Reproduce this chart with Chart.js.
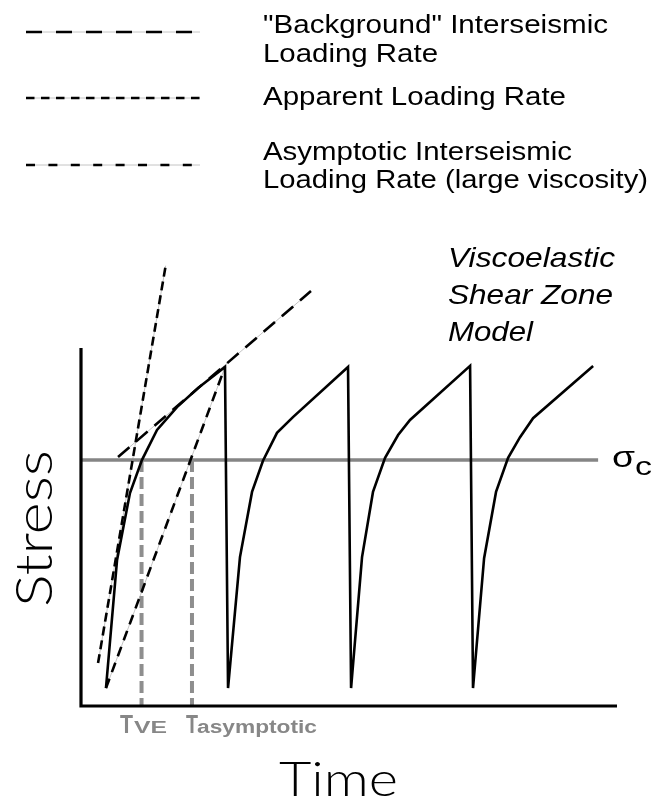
<!DOCTYPE html>
<html>
<head>
<meta charset="utf-8">
<script src="https://cdn.jsdelivr.net/npm/chart.js@4.4.1/dist/chart.umd.min.js"></script>
<style>
html,body{margin:0;padding:0;background:#fff;}
canvas{display:block;}
</style>
</head>
<body>
<canvas id="c" width="669" height="802"></canvas>
<script>
// ---------------- data (arbitrary time / stress units) ----------------
const stressTime = [
  0.205, 0.296, 0.402, 0.500, 0.624, 0.788, 0.961, 1.182,
  1.207, 1.305, 1.404, 1.494, 1.609, 1.740, 2.192,
  2.217, 2.307, 2.397, 2.496, 2.603, 2.701, 3.194,
  3.218, 3.309, 3.407, 3.506, 3.604, 3.711, 4.204
];
const stressValue = [
  0.50, 4.08, 5.95, 6.87, 7.71, 8.35, 8.88, 9.47,
  0.50, 4.16, 5.98, 6.85, 7.63, 8.07, 9.47,
  0.50, 4.16, 5.98, 6.93, 7.57, 7.99, 9.50,
  0.50, 4.13, 5.98, 6.93, 7.51, 8.04, 9.50
];
const sigmaC = 6.87;
const sigmaCTime = [0, 4.245];
const sigmaCValue = [sigmaC, sigmaC];

const backgroundTime = [0.304, 1.888];
const backgroundValue = [6.955, 11.59];
const apparentTime = [0.14, 0.695];
const apparentValue = [1.2, 12.3];
const asymptoticTime = [0.205, 1.182];
const asymptoticValue = [0.5, 9.47];

const tVE = 0.497;
const tAsymptotic = 0.911;
const markerTimesVE = [tVE, tVE];
const markerTimesAsym = [tAsymptotic, tAsymptotic];
const markerValues = [sigmaC, 0];

const axisTime = [0, 0, 4.4];
const axisValue = [10, 0, 0];

const legendLabels = [
  ['"Background" Interseismic', 'Loading Rate'],
  ['Apparent Loading Rate'],
  ['Asymptotic Interseismic', 'Loading Rate (large viscosity)']
];
const modelLabel = ['Viscoelastic', 'Shear Zone', 'Model'];
const xTitle = 'Time';
const yTitle = 'Stress';
const sigmaLabel = ['σ', 'c'];
const markerLabels = [['T', 'VE'], ['T', 'asymptotic']];

// ---------------- helpers ----------------
function pts(xs, ys) { return xs.map((x, i) => ({ x: x, y: ys[i] })); }
function line(xs, ys, opts) {
  return Object.assign({
    data: pts(xs, ys), showLine: true, pointRadius: 0, pointHoverRadius: 0,
    fill: false, tension: 0, clip: false, borderWidth: 2, borderColor: '#000'
  }, opts);
}

function fitText(ctx, text, font, x, y, width, color, sy) {
  ctx.save();
  ctx.font = font;
  ctx.fillStyle = color;
  ctx.textAlign = 'left';
  ctx.textBaseline = 'alphabetic';
  const w = ctx.measureText(text).width;
  ctx.translate(x, y);
  ctx.scale(width / w, sy || 1);
  ctx.fillText(text, 0, 0);
  ctx.restore();
}

const SANS = '"Liberation Sans", Arial, Helvetica, sans-serif';
const THIN = 'Lato, Roboto, "Open Sans", sans-serif';

const overlay = {
  id: 'overlay',
  afterDraw(chart) {
    const ctx = chart.ctx;
    // legend samples
    const rows = [
      { y: 32, dash: [16, 14] },
      { y: 98, dash: [8.5, 6.5] },
      { y: 165, dash: [9, 13.4] }
    ];
    rows.forEach(r => {
      ctx.save();
      ctx.strokeStyle = '#c4c4c4'; ctx.lineWidth = 1;
      ctx.beginPath(); ctx.moveTo(26, r.y); ctx.lineTo(200, r.y); ctx.stroke();
      ctx.strokeStyle = '#000'; ctx.lineWidth = 2.6; ctx.setLineDash(r.dash);
      ctx.beginPath(); ctx.moveTo(26, r.y); ctx.lineTo(200, r.y); ctx.stroke();
      ctx.restore();
    });
    // legend text
    const lf = '26px ' + SANS;
    fitText(ctx, legendLabels[0][0], lf, 263, 33, 345, '#000');
    fitText(ctx, legendLabels[0][1], lf, 263, 62, 175, '#000');
    fitText(ctx, legendLabels[1][0], lf, 263, 105, 303, '#000');
    fitText(ctx, legendLabels[2][0], lf, 263, 160, 309, '#000');
    fitText(ctx, legendLabels[2][1], lf, 263, 188, 385, '#000');

    // model label
    const mf = 'italic 28px ' + SANS;
    fitText(ctx, modelLabel[0], mf, 448, 267, 167, '#000');
    fitText(ctx, modelLabel[1], mf, 448, 304, 165, '#000');
    fitText(ctx, modelLabel[2], mf, 448, 341, 85, '#000');

    // sigma_c
    fitText(ctx, sigmaLabel[0], '30px ' + SANS, 612, 467, 23, '#000');
    fitText(ctx, sigmaLabel[1], '26px ' + SANS, 635, 475, 17, '#000');

    // T labels
    const g = '#878787';
    fitText(ctx, markerLabels[0][0], 'bold 25px ' + SANS, 120, 733, 13, g);
    fitText(ctx, markerLabels[0][1], 'bold 16px ' + SANS, 134, 733, 33, g);
    fitText(ctx, markerLabels[1][0], 'bold 25px ' + SANS, 186, 733, 12, g);
    fitText(ctx, markerLabels[1][1], 'bold 18px ' + SANS, 197, 733, 120, g);

    // axis titles
    fitText(ctx, xTitle, '300 48px ' + THIN, 279, 796, 119, '#000');
    ctx.save();
    ctx.translate(52, 607);
    ctx.rotate(-Math.PI / 2);
    fitText(ctx, yTitle, '300 46px ' + THIN, 0, 0, 157, '#000', 1.13);
    ctx.restore();
  }
};

new Chart(document.getElementById('c'), {
  type: 'scatter',
  data: {
    datasets: [
      // thin grey guide lines under dashes
      line(backgroundTime, backgroundValue, { borderColor: '#c4c4c4', borderWidth: 1, order: 10 }),
      line(apparentTime, apparentValue, { borderColor: '#c4c4c4', borderWidth: 1, order: 10 }),
      line(asymptoticTime, asymptoticValue, { borderColor: '#c4c4c4', borderWidth: 1, order: 10 }),
      // sigma_c
      line(sigmaCTime, sigmaCValue, { borderColor: '#858585', borderWidth: 3.5, order: 9 }),
      // T markers
      line(markerTimesVE, markerValues, { borderColor: '#8e8e8e', borderWidth: 4, borderDash: [12, 5], order: 8 }),
      line(markerTimesAsym, markerValues, { borderColor: '#8e8e8e', borderWidth: 4, borderDash: [12, 5], order: 8 }),
      // dashed loading-rate lines
      line(backgroundTime, backgroundValue, { borderWidth: 2.6, borderDash: [15, 9], order: 5 }),
      line(apparentTime, apparentValue, { borderWidth: 2.6, borderDash: [9, 5], order: 5 }),
      line(asymptoticTime, asymptoticValue, { borderWidth: 2.6, borderDash: [10, 7], order: 5 }),
      // stress history
      line(stressTime, stressValue, { borderWidth: 2.6, order: 3, borderJoinStyle: 'miter' }),
      // axes
      line(axisTime, axisValue, { borderWidth: 3.2, order: 1, borderJoinStyle: 'miter' })
    ]
  },
  options: {
    responsive: false,
    animation: false,
    devicePixelRatio: 1,
    events: [],
    layout: { padding: { left: 81, right: 52, top: 348, bottom: 96 } },
    scales: {
      x: { type: 'linear', min: 0, max: 4.4, display: false },
      y: { type: 'linear', min: 0, max: 10, display: false }
    },
    plugins: { legend: { display: false }, tooltip: { enabled: false } }
  },
  plugins: [overlay]
});
</script>
</body>
</html>
